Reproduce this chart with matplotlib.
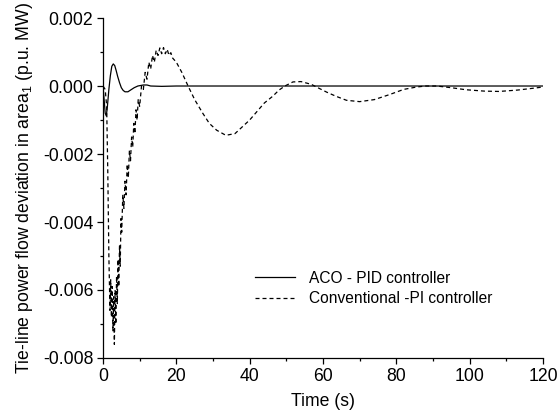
import matplotlib

matplotlib.use("Agg")
import matplotlib.pyplot as plt
from matplotlib.ticker import FormatStrFormatter, MultipleLocator

plt.rcParams["font.family"] = ["Liberation Sans", "DejaVu Sans"]
plt.rcParams["mathtext.fontset"] = "custom"
plt.rcParams["mathtext.rm"] = "Liberation Sans"
plt.rcParams["mathtext.it"] = "Liberation Sans"
plt.rcParams["axes.unicode_minus"] = False

# ACO-tuned PID controller response
t_aco = [0, 0.3, 0.6, 0.9, 1.2, 1.6, 2.0, 2.4, 2.8, 3.2, 3.6, 4.0, 4.5, 5.0,
         5.5, 6.0, 6.8, 7.5, 8.5, 9.5, 11, 12, 13, 16, 20, 30, 120]
dp_aco = [0, -0.0004, -0.0008, -0.00088, -0.0006, -0.0001, 0.0003, 0.00058,
          0.00065, 0.0006, 0.00045, 0.00028, 0.0001, -0.00005, -0.00013,
          -0.00017, -0.00017, -0.00012, -0.00005, 0.0, 0.00003, 0.00003, 0.0,
          -0.00001, 0.0, 0.0, 0.0]

# conventional PI controller response
t_pi = [0, 0.6, 1.0, 1.3, 1.6, 1.9, 2.1, 2.3, 2.5, 2.7, 2.9, 3.1, 3.3, 3.5,
        3.7, 3.9, 4.1, 4.3, 4.5, 4.7, 4.9, 5.1, 5.4, 5.7, 6.0, 6.3, 6.6, 6.9,
        7.2, 7.5, 7.8, 8.1, 8.4, 8.7, 9.0, 9.3, 9.6, 10.0, 10.5, 11.0, 11.5,
        12.0, 12.5, 13.0, 13.5, 14.0, 14.5, 15.0, 15.5, 16.0, 16.5, 17.0,
        17.5, 18.0, 18.5, 19.0, 20, 21.5, 23.2, 25, 27.2, 29, 31, 33.5, 36,
        38, 40, 42, 44, 46.3, 48, 49.6, 51.8, 54, 56.8, 58.6, 61, 63.5, 66.4,
        70, 74, 78.2, 82, 85.5, 88, 91, 95, 99, 104, 108, 113, 117, 120]
dp_pi = [0, -0.0001, -0.0006, -0.0025, -0.0050, -0.0066, -0.0057, -0.0068,
         -0.0059, -0.0072, -0.0062, -0.0076, -0.0060, -0.0070, -0.0056,
         -0.0064, -0.0051, -0.0059, -0.0047, -0.0053, -0.0039, -0.0043,
         -0.0032, -0.0036, -0.0028, -0.0032, -0.0023, -0.0027, -0.0019,
         -0.0022, -0.0015, -0.0018, -0.0011, -0.0014, -0.0007, -0.0010,
         -0.0004, -0.0006, 0.0, -0.0001, 0.0004, 0.0002, 0.0007, 0.0005,
         0.0009, 0.0007, 0.00105, 0.0009, 0.00112, 0.00095, 0.00113, 0.00095,
         0.00108, 0.0009, 0.00098, 0.00082, 0.0007, 0.0004, 0.0, -0.0004,
         -0.0008, -0.0011, -0.0013, -0.00145, -0.0014, -0.0012, -0.001,
         -0.00075, -0.0005, -0.0003, -0.00012, 0.0, 0.00012, 0.00013, 0.00005,
         -0.00005, -0.00018, -0.0003, -0.00042, -0.00046, -0.0004, -0.00025,
         -0.0001, -0.00003, 0.0, 0.0, -0.00005, -0.00011, -0.00015, -0.00016,
         -0.00012, -0.00007, -0.00003]

FS = 12.7

fig = plt.figure(figsize=(5.58, 4.17), dpi=100)
ax = fig.add_axes([0.1846, 0.1415, 0.7885, 0.8153])

ax.plot(t_aco, dp_aco, color="black", lw=0.9, label="ACO - PID controller")
ax.plot(t_pi, dp_pi, color="black", lw=0.9, ls=(0, (3.2, 2.4)),
        label="Conventional -PI controller")

ax.set_xlim(0, 120)
ax.set_ylim(-0.008, 0.002)
ax.xaxis.set_major_locator(MultipleLocator(20))
ax.xaxis.set_minor_locator(MultipleLocator(10))
ax.yaxis.set_major_locator(MultipleLocator(0.002))
ax.yaxis.set_minor_locator(MultipleLocator(0.001))
ax.yaxis.set_major_formatter(FormatStrFormatter("%.3f"))

for side in ("top", "right"):
    ax.spines[side].set_visible(False)
for side in ("left", "bottom"):
    ax.spines[side].set_linewidth(0.9)
ax.tick_params(which="major", direction="out", length=4.5, width=0.9,
               labelsize=FS, pad=2.5)
ax.tick_params(which="minor", direction="out", length=2.5, width=0.9)

ax.set_xlabel("Time (s)", fontsize=FS, labelpad=6)
ax.set_ylabel("Tie-line power flow deviation in area$_1$ (p.u. MW)",
              fontsize=FS, labelpad=6)

ax.legend(loc="center left", bbox_to_anchor=(0.345, 0.205), frameon=False,
          fontsize=11.2, handlelength=2.6, handletextpad=0.9,
          labelspacing=0.35, borderpad=0, borderaxespad=0)

fig.savefig("out.png", dpi=100)
